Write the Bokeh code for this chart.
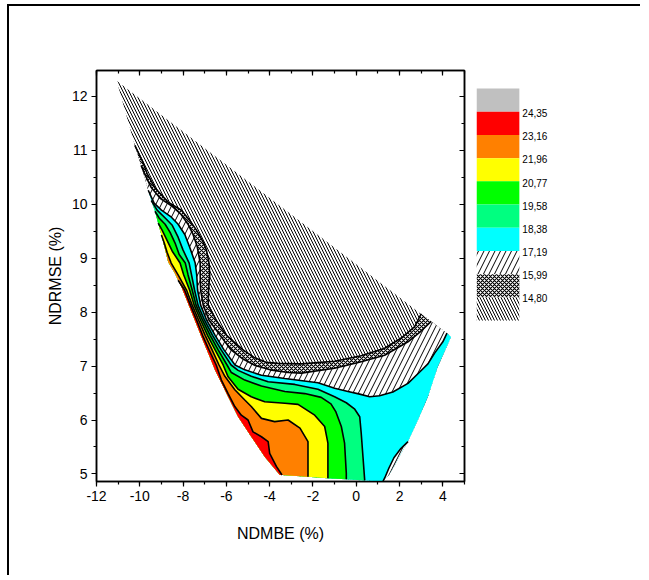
from bokeh.plotting import figure
from bokeh.models import Range1d, SingleIntervalTicker, LinearAxis
from bokeh.layouts import row
from bokeh.core.properties import value
from bokeh.embed import file_html
from bokeh.resources import INLINE

# ---------------- data ----------------
level_labels = ["24,35", "23,16", "21,96", "20,77", "19,58", "18,38", "17,19", "15,99", "14,80"]
# legend bands from top (highest) to bottom (lowest)
band_fills = ["#C0C0C0", "#FF0000", "#FF8000", "#FFFF00", "#00FF00", "#00FF80", "#00FFFF", "white", "white", "white"]
band_hatch = [" ", " ", " ", " ", " ", " ", " ", "/", "x", "\\"]
band_hatch_scale = [8, 8, 8, 8, 8, 8, 8, 11, 4, 6]
band_hatch_weight = [1, 1, 1, 1, 1, 1, 1, 1.0, 1.2, 1.0]

x_ticks = [-12, -10, -8, -6, -4, -2, 0, 2, 4]
x_tick_labels = ["-12", "-10", "-8", "-6", "-4", "-2", "0", "2", "4"]

# domain boundary (NDMBE %, NDRMSE %): left side down, bottom, right side up to the tip
bnd_x = [-11.07, -10.23, -9.94, -9.61, -9.47, -9.30, -9.15, -9.00, -8.69, -8.38, -8.23, -8.08,
         -7.77, -7.46, -7.15, -6.84, -6.53, -5.92, -5.46, -4.85, -4.23, -3.53, -3.43, -2.23,
         -1.31, -0.46, 0.39, 1.23, 1.51, 1.83, 2.11, 2.39, 2.85, 3.31, 3.77, 4.38]
bnd_y = [12.29, 11.09, 10.72, 10.26, 10.07, 9.87, 9.65, 9.43, 8.93, 8.72, 8.59, 8.47,
         8.16, 7.85, 7.54, 7.24, 6.93, 6.43, 6.06, 5.69, 5.32, 4.98, 4.98, 4.95,
         4.92, 4.90, 4.88, 4.86, 4.98, 5.20, 5.41, 5.60, 6.00, 6.43, 6.99, 7.54]
# points where contours 14.80, 15.99, 17.19 meet the straight upper edge
top_x = [3.00, 3.46, 4.19]
top_y = [7.97, 7.83, 7.61]

# contour lines (level 14.80 ... 23.16)
c1_x = [-10.23, -9.89, -9.66, -9.29, -8.69, -8.08, -7.69, -7.38, -7.07, -6.92, -6.80, -6.77, -6.82,
        -6.84, -6.47, -5.99, -5.23, -4.72, -4.17, -3.61, -2.54, -1.00, 0.23, 1.31, 2.08, 2.70, 3.00]
c1_y = [11.09, 10.81, 10.57, 10.30, 10.04, 9.89, 9.70, 9.52, 9.30, 9.15, 8.91, 8.69, 8.41,
        8.13, 7.85, 7.57, 7.30, 7.16, 7.07, 7.05, 7.04, 7.09, 7.19, 7.33, 7.52, 7.73, 7.97]
c2_x = [-9.94, -9.75, -9.47, -9.06, -8.50, -8.09, -7.77, -7.54, -7.35, -7.21, -7.21, -7.19, -7.07,
        -6.80, -6.29, -5.78, -5.23, -4.67, -3.98, -3.15, -2.54, -1.00, 0.23, 1.31, 2.39, 2.94, 3.46]
c2_y = [10.72, 10.54, 10.31, 10.11, 9.96, 9.81, 9.63, 9.44, 9.22, 8.91, 8.69, 8.41, 8.13,
        7.85, 7.57, 7.30, 7.13, 7.01, 6.93, 6.88, 6.87, 6.96, 7.08, 7.20, 7.45, 7.63, 7.83]
c3_x = [-9.61, -9.34, -9.00, -8.54, -8.23, -7.92, -7.69, -7.44, -7.37, -7.33, -7.19, -6.91, -6.52,
        -6.11, -5.60, -5.15, -4.38, -3.30, -1.77, -1.00, -0.38, 0.16, 0.62, 1.08, 1.69, 2.39, 2.93,
        3.31, 3.62, 4.00, 4.19]
c3_y = [10.26, 10.02, 9.89, 9.76, 9.63, 9.44, 9.20, 8.91, 8.69, 8.41, 8.13, 7.85, 7.57,
        7.30, 7.02, 6.93, 6.83, 6.77, 6.69, 6.59, 6.53, 6.48, 6.43, 6.45, 6.52, 6.68, 6.89,
        7.04, 7.24, 7.45, 7.61]
c4_x = [-9.47, -9.20, -8.84, -8.50, -8.23, -8.00, -7.72, -7.61, -7.47, -7.31, -7.01, -6.64, -6.24,
        -5.78, -5.46, -4.85, -4.07, -2.84, -1.77, -1.00, -0.46, -0.07, 0.16, 0.23, 0.31, 0.39]
c4_y = [10.07, 9.89, 9.75, 9.61, 9.39, 9.15, 8.91, 8.69, 8.41, 8.13, 7.85, 7.57, 7.30,
        7.02, 6.92, 6.81, 6.71, 6.66, 6.57, 6.43, 6.32, 6.20, 6.06, 5.75, 5.32, 4.88]
c5_x = [-9.30, -9.10, -8.83, -8.60, -8.37, -8.18, -7.90, -7.77, -7.58, -7.40, -7.10, -6.75, -6.38,
        -5.97, -5.77, -5.15, -4.38, -3.30, -2.38, -1.62, -1.17, -0.94, -0.69, -0.54, -0.46, -0.46]
c5_y = [9.87, 9.74, 9.63, 9.48, 9.28, 9.07, 8.91, 8.69, 8.41, 8.13, 7.85, 7.57, 7.30,
        7.02, 6.88, 6.74, 6.63, 6.53, 6.49, 6.42, 6.30, 6.15, 5.88, 5.57, 5.01, 4.90]
c6_x = [-9.15, -8.97, -8.74, -8.50, -8.14, -7.97, -7.70, -7.49, -7.19, -6.87, -6.52, -6.15, -5.92,
        -5.46, -4.85, -4.23, -3.30, -2.69, -1.92, -1.46, -1.31, -1.31]
c6_y = [9.65, 9.52, 9.33, 9.13, 8.91, 8.69, 8.41, 8.13, 7.85, 7.57, 7.30, 7.02, 6.80,
        6.57, 6.43, 6.34, 6.31, 6.29, 6.09, 5.88, 5.57, 4.92]
c7_x = [-9.00, -8.87, -8.74, -8.55, -8.23, -7.84, -7.58, -7.28, -6.98, -6.66, -6.34, -6.07, -5.61,
        -5.15, -4.85, -4.38, -3.77, -3.15, -2.60, -2.23, -2.23]
c7_y = [9.43, 9.28, 9.11, 8.91, 8.69, 8.41, 8.13, 7.85, 7.57, 7.30, 7.02, 6.81, 6.56,
        6.37, 6.25, 6.03, 5.97, 6.00, 5.85, 5.60, 4.95]
c8_x = [-8.23, -7.93, -7.66, -7.37, -7.10, -6.80, -6.47, -6.23, -5.92, -5.61, -5.31, -5.00, -4.77,
        -4.38, -4.07, -4.00, -3.69, -3.43]
c8_y = [8.59, 8.41, 8.13, 7.85, 7.57, 7.30, 7.02, 6.74, 6.49, 6.25, 6.09, 6.00, 5.78,
        5.69, 5.60, 5.38, 5.14, 4.98]
# small low-value pocket on the lower right edge (15.99 - 17.19)
pocket_x = [2.39, 2.06, 1.74, 1.51, 1.32, 1.23]
pocket_y = [5.60, 5.47, 5.30, 5.11, 4.93, 4.86]

contours_x = [c1_x, c2_x, c3_x, c4_x, c5_x, c6_x, c7_x, c8_x]
contours_y = [c1_y, c2_y, c3_y, c4_y, c5_y, c6_y, c7_y, c8_y]
# boundary index where each contour starts / ends (None = ends on the upper edge)
contour_start = [1, 2, 3, 4, 5, 6, 7, 10]
contour_end = [None, None, None, 26, 25, 24, 23, 22]

# ---------------- figure ----------------
FONT = "Liberation Sans"
TOP, FRAME_H, BOTTOM = 64, 411, 94
p = figure(x_range=Range1d(-12, 5), y_range=Range1d(4.86, 12.48),
           frame_width=368, frame_height=FRAME_H,
           min_border_left=87, min_border_top=TOP, min_border_bottom=BOTTOM, min_border_right=12,
           output_backend="svg", toolbar_location=None,
           x_axis_label="NDMBE (%)", y_axis_label="NDRMSE (%)")
p.grid.visible = False
p.outline_line_color = "black"
p.outline_line_width = 1.5

p.xaxis.ticker = SingleIntervalTicker(interval=2, num_minor_ticks=2)
p.yaxis.ticker = SingleIntervalTicker(interval=1, num_minor_ticks=2)
p.xaxis.major_label_overrides = dict(zip(x_ticks, x_tick_labels))
for ax in (p.xaxis[0], p.yaxis[0]):
    ax.major_tick_out = 5
    ax.major_tick_in = 0
    ax.minor_tick_out = 3
    ax.minor_tick_in = 0
    ax.axis_line_width = 1.5
    ax.major_tick_line_width = 1.2
    ax.minor_tick_line_width = 1.2
    ax.major_label_text_font = FONT
    ax.major_label_text_font_size = "14px"
    ax.major_label_text_color = "black"
    ax.axis_label_text_font = FONT
    ax.axis_label_text_font_size = "16px"
    ax.axis_label_text_font_style = "normal"
    ax.axis_label_text_color = "black"
    ax.major_label_standoff = 4
p.xaxis[0].axis_label_standoff = 21
p.yaxis[0].axis_label_standoff = 5

for loc, tk in (("above", SingleIntervalTicker(interval=2, num_minor_ticks=2)),
                ("right", SingleIntervalTicker(interval=1, num_minor_ticks=2))):
    ax = LinearAxis(ticker=tk, major_label_text_font_size="1px", major_label_text_color=None,
                    major_label_standoff=0,
                    major_tick_in=5, major_tick_out=0, minor_tick_in=3, minor_tick_out=0,
                    axis_line_width=1.5, major_tick_line_width=1.2, minor_tick_line_width=1.2)
    p.add_layout(ax, loc)

# lowest band: whole domain
p.patch(bnd_x, bnd_y, fill_color="white", hatch_pattern=band_hatch[9], hatch_scale=band_hatch_scale[9],
        hatch_weight=band_hatch_weight[9], hatch_color="black", line_color=None)

# superlevel regions, from level 14.80 upward
for k in range(8):
    cx, cy = list(contours_x[k]), list(contours_y[k])
    s, e = contour_start[k], contour_end[k]
    if e is None:
        px_ = cx + top_x[k + 1:] + bnd_x[35:s:-1]
        py_ = cy + top_y[k + 1:] + bnd_y[35:s:-1]
    else:
        px_ = cx + bnd_x[e - 1:s:-1]
        py_ = cy + bnd_y[e - 1:s:-1]
    band = 8 - k  # legend index of the band above this level
    p.patch(px_, py_, fill_color=band_fills[band], hatch_pattern=band_hatch[band],
            hatch_scale=band_hatch_scale[band], hatch_weight=band_hatch_weight[band],
            hatch_color="black", line_color=None)

# pocket on the lower right edge
pk_x = pocket_x + bnd_x[28:31]
pk_y = pocket_y + bnd_y[28:31]
p.patch(pk_x, pk_y, fill_color="white", hatch_pattern=band_hatch[7], hatch_scale=band_hatch_scale[7],
        hatch_weight=band_hatch_weight[7], hatch_color="black", line_color=None)

p.multi_line(contours_x + [pocket_x], contours_y + [pocket_y], line_color="black", line_width=1.6)

# ---------------- colour scale ----------------
# one legend slot = one band; frame aligned with the main frame
leg = figure(x_range=Range1d(0, 3.5), y_range=Range1d(-6.94, 10.78),
             frame_width=150, frame_height=FRAME_H,
             min_border_left=0, min_border_top=TOP, min_border_right=14,
             min_border_bottom=BOTTOM, output_backend="svg", toolbar_location=None)
leg.axis.visible = False
leg.grid.visible = False
leg.outline_line_color = None
for i in range(10):
    leg.quad(left=0, right=1, bottom=9 - i, top=10 - i, fill_color=band_fills[i],
             hatch_pattern=band_hatch[i], hatch_scale=band_hatch_scale[i],
             hatch_weight=band_hatch_weight[i], hatch_color="black", line_color=None)
leg.text(x=[1.07] * 9, y=[9 - i - 0.05 for i in range(9)], text=level_labels,
         text_baseline="middle", text_font=value(FONT), text_font_size="10px", text_color="black")

layout = row(p, leg, margin=(4, 0, 0, 7),
             styles={"border-left": "2px solid black", "border-top": "2px solid black"})
open("out.html", "w").write(file_html(layout, INLINE))
